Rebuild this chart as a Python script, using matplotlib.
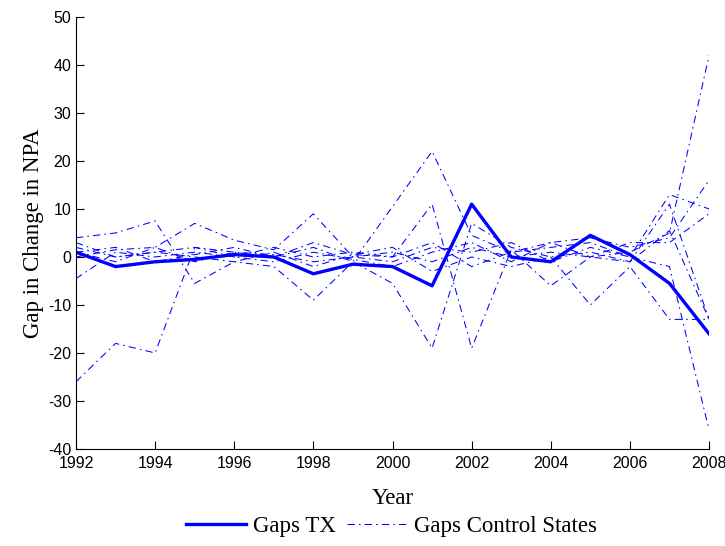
import numpy as np
import matplotlib
matplotlib.use("Agg")
import matplotlib.pyplot as plt

plt.rcParams["axes.unicode_minus"] = False

# data
years = np.arange(1992, 2009)

gaps_tx = [1, -2, -1, -0.5, 0.5, 0, -3.5, -1.5, -2, -6, 11, 0, -1, 4.5, 0.5, -5.5, -16]

ctrl_1 = [-26, -18, -20, 2, 1, 0.5, -1, 0, 1, -1, 2, 0, 1, 0, 1, 5, 42]
ctrl_2 = [4, 5, 7.5, -5.5, -1, 1, -2, 0.5, 0, 3, -2, 1, 2, 3, 0, -2, -36]
ctrl_3 = [0, 1.5, 2, 7, 3.5, 1.5, 9, 0, -1, 2, 1, 3, -1, 2, 0, 13, 10]
ctrl_4 = [2, 0, 1, 0, -1, -2, -9, -1, -5.5, -19, 7, 2, 0, 1, -1, 5.5, -13]
ctrl_5 = [1, 2, -1, 0.5, 2, 0, 2, -1, 10.5, 22, 4.5, 1, 3, 4, 2, 4, 16]
ctrl_6 = [-4.5, 1, 0, 1, 0, 2, 0, 1, 0, 11, -19, 1.5, -6, 0, -1, 11, -13]
ctrl_7 = [1, -1, 2, -1, 1, 0, 3, 0.5, 2, -3, 0, -2, 0, -10, -2, -13, -13]
ctrl_8 = [3, 0, 1, 2, 0, -1, 1, -0.5, -2, 1, 3, -1, 3, 0, 3, 3, 9]
controls = [ctrl_1, ctrl_2, ctrl_3, ctrl_4, ctrl_5, ctrl_6, ctrl_7, ctrl_8]

serif = ["Liberation Serif", "DejaVu Serif"]
sans = ["Liberation Sans", "DejaVu Sans"]

fig = plt.figure(figsize=(7.25, 5.46), dpi=100)
ax = fig.add_axes([0.1048, 0.1777, 0.8732, 0.7912])

blue = (0, 0, 1)
dashdot = (0, (7, 4, 1.5, 4))

h_tx, = ax.plot(years, gaps_tx, color=blue, lw=2.4, label="Gaps TX")
for i, c in enumerate(controls):
    h, = ax.plot(years, c, color=blue, lw=0.75, linestyle=dashdot,
                 label="Gaps Control States" if i == 0 else None)
    if i == 0:
        h_ctrl = h

ax.set_xlim(1992, 2008)
ax.set_ylim(-40, 50)
ax.set_xticks(np.arange(1992, 2009, 2))
ax.set_yticks(np.arange(-40, 51, 10))
ax.tick_params(direction="in", length=6, width=0.8, labelsize=11.5)
ax.tick_params(axis="x", pad=5)
for lab in ax.get_xticklabels() + ax.get_yticklabels():
    lab.set_family(sans)
ax.spines["top"].set_visible(False)
ax.spines["right"].set_visible(False)

ax.set_xlabel("Year", family=serif, fontsize=16.5, labelpad=12)
ax.set_ylabel("Gap in Change in NPA", family=serif, fontsize=16.5, labelpad=3)

leg = fig.legend(handles=[h_tx, h_ctrl], loc="center", bbox_to_anchor=(0.54, 0.036),
                 ncol=2, frameon=False, handlelength=2.6, columnspacing=0.5,
                 handletextpad=0.3, prop={"family": serif, "size": 16.5})

fig.savefig("out.png", dpi=100)
